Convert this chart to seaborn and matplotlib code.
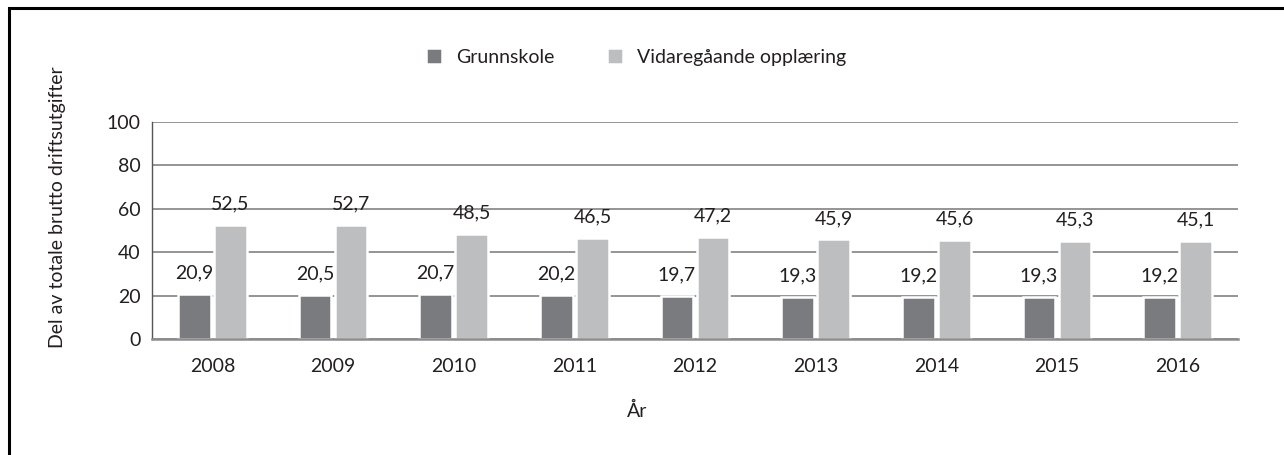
import matplotlib
matplotlib.use("Agg")
import matplotlib.pyplot as plt
import seaborn as sns
import pandas as pd
from matplotlib.patches import Rectangle

years = ["2008", "2009", "2010", "2011", "2012", "2013", "2014", "2015", "2016"]
grunnskole = [20.9, 20.5, 20.7, 20.2, 19.7, 19.3, 19.2, 19.3, 19.2]
vidaregaande = [52.5, 52.7, 48.5, 46.5, 47.2, 45.9, 45.6, 45.3, 45.1]
series_names = ["Grunnskole", "Vidaregåande opplæring"]
yticks = [0, 20, 40, 60, 80, 100]

sns.set_theme(style="white")
plt.rcParams["font.family"] = ["Lato", "DejaVu Sans"]
TXT = "#231f20"
FS = 14

df = pd.DataFrame({
    "year": years * 2,
    "value": grunnskole + vidaregaande,
    "serie": [series_names[0]] * len(years) + [series_names[1]] * len(years),
})

fig = plt.figure(figsize=(12.84, 4.55), dpi=100)
ax = fig.add_axes([152/1284, 1-339/455, (1238-152)/1284, (339-122)/455])

palette = {series_names[0]: "#7a7b7f", series_names[1]: "#bdbec0"}
sns.barplot(data=df, x="year", y="value", hue="serie", palette=palette,
            width=0.6, gap=0.1, edgecolor="white", linewidth=1.8,
            saturation=1, ax=ax, zorder=3, legend=True)

ax.set_ylim(0, 100)
ax.set_xlim(-0.5, len(years) - 0.5)
ax.set_yticks(yticks)
ax.yaxis.grid(True, color="#8c8c8c", linewidth=1.3, zorder=0)
ax.set_axisbelow(True)
for s in ["top", "right"]:
    ax.spines[s].set_visible(False)
ax.spines["left"].set_color("#555555")
ax.spines["left"].set_linewidth(1.0)
ax.spines["bottom"].set_color("#8c8c8c")
ax.spines["bottom"].set_linewidth(1.8)
for s in ["left", "bottom"]:
    ax.spines[s].set_zorder(5)
ax.tick_params(axis="both", length=0, labelsize=FS, labelcolor=TXT, pad=8)
ax.tick_params(axis="x", pad=14)
ax.set_xlabel("")
ax.set_ylabel("")

for cont in ax.containers:
    labels = [f"{v:.1f}".replace(".", ",") for v in cont.datavalues]
    ax.bar_label(cont, labels=labels, padding=9, fontsize=FS, color=TXT)

handles, labs = ax.get_legend_handles_labels()
ax.legend_.remove()
fig.legend(handles, labs, loc="center", bbox_to_anchor=(636/1284, 1-57/455),
           ncol=2, frameon=False, fontsize=FS, handlelength=0.85, handleheight=0.85,
           columnspacing=2.7, handletextpad=0.7, labelcolor=TXT)

fig.text(57/1284, 1-207/455, "Del av totale brutto driftsutgifter", rotation=90,
         ha="center", va="center", fontsize=FS, color=TXT)
fig.text(637/1284, 1-411/455, "År", ha="center", va="center", fontsize=FS, color=TXT)

fig.patches.append(Rectangle((9/1284, -0.1), 1.2, 1.1 - 8/455, transform=fig.transFigure,
                             fill=False, edgecolor="black", linewidth=2.2, figure=fig))

fig.savefig("out.png", dpi=100)
